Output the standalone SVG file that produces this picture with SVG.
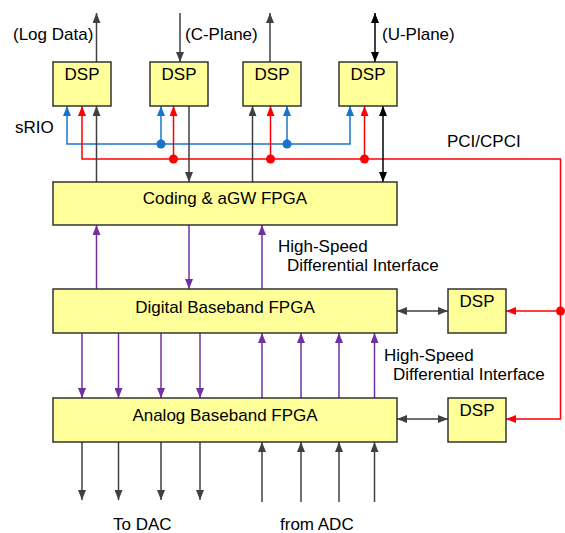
<svg xmlns="http://www.w3.org/2000/svg" width="565" height="533" viewBox="0 0 565 533">
<style>
text{font-family:"Liberation Sans",Arial,sans-serif;font-size:17px;fill:#000}
.box{fill:#FFFF99;stroke:#333;stroke-width:1.5}
.c{text-anchor:middle}
.g{stroke:#404040;stroke-width:1.5;fill:none}
.k{stroke:#000;stroke-width:1.5;fill:none}
.p{stroke:#7030A0;stroke-width:1.5;fill:none}
.r{stroke:#FF0000;stroke-width:1.5;fill:none}
.b{stroke:#1874CD;stroke-width:1.5;fill:none}
</style>
<defs>
<marker id="ag" viewBox="0 0 10 8" refX="10" refY="4" markerWidth="10" markerHeight="8" markerUnits="userSpaceOnUse" orient="auto-start-reverse"><path d="M0,0L10,4L0,8z" fill="#404040"/></marker>
<marker id="ak" viewBox="0 0 10 8" refX="10" refY="4" markerWidth="10" markerHeight="8" markerUnits="userSpaceOnUse" orient="auto-start-reverse"><path d="M0,0L10,4L0,8z" fill="#000"/></marker>
<marker id="ap" viewBox="0 0 10 8" refX="10" refY="4" markerWidth="10" markerHeight="8" markerUnits="userSpaceOnUse" orient="auto-start-reverse"><path d="M0,0L10,4L0,8z" fill="#7030A0"/></marker>
<marker id="ar" viewBox="0 0 10 8" refX="10" refY="4" markerWidth="10" markerHeight="8" markerUnits="userSpaceOnUse" orient="auto-start-reverse"><path d="M0,0L10,4L0,8z" fill="#FF0000"/></marker>
<marker id="ab" viewBox="0 0 10 8" refX="10" refY="4" markerWidth="10" markerHeight="8" markerUnits="userSpaceOnUse" orient="auto-start-reverse"><path d="M0,0L10,4L0,8z" fill="#1874CD"/></marker>
</defs>

<g id="connectors">
<!-- top external -->
<line class="g" x1="96.5" y1="62" x2="96.5" y2="13" marker-end="url(#ag)"/>
<line class="g" x1="180" y1="13" x2="180" y2="62" marker-end="url(#ag)"/>
<line class="g" x1="270" y1="62" x2="270" y2="13" marker-end="url(#ag)"/>
<line class="k" x1="375" y1="13" x2="375" y2="62" marker-start="url(#ak)" marker-end="url(#ak)"/>
<!-- blue sRIO -->
<polyline class="b" points="67,106 67,144 350,144 350,106" marker-start="url(#ab)" marker-end="url(#ab)"/>
<line class="b" x1="161" y1="144" x2="161" y2="106" marker-end="url(#ab)"/>
<line class="b" x1="287" y1="144" x2="287" y2="106" marker-end="url(#ab)"/>
<circle cx="161" cy="144" r="4.5" fill="#1874CD"/>
<circle cx="287" cy="144" r="4.5" fill="#1874CD"/>
<!-- red PCI -->
<polyline class="r" points="82,106 82,159 560.5,159 560.5,419 506,419" marker-start="url(#ar)" marker-end="url(#ar)"/>
<line class="r" x1="173.5" y1="159" x2="173.5" y2="106" marker-end="url(#ar)"/>
<line class="r" x1="270.5" y1="159" x2="270.5" y2="106" marker-end="url(#ar)"/>
<line class="r" x1="364.5" y1="159" x2="364.5" y2="106" marker-end="url(#ar)"/>
<line class="r" x1="560.5" y1="311" x2="506" y2="311" marker-end="url(#ar)"/>
<circle cx="173.5" cy="159" r="4.5" fill="#FF0000"/>
<circle cx="270.5" cy="159" r="4.5" fill="#FF0000"/>
<circle cx="364.5" cy="159" r="4.5" fill="#FF0000"/>
<circle cx="560.5" cy="311" r="4.5" fill="#FF0000"/>
<!-- black DSP to coding -->
<line class="g" x1="96.5" y1="182" x2="96.5" y2="106" marker-end="url(#ag)"/>
<line class="g" x1="189" y1="106" x2="189" y2="182" marker-end="url(#ag)"/>
<line class="g" x1="252.5" y1="182" x2="252.5" y2="106" marker-end="url(#ag)"/>
<line class="k" x1="383" y1="106" x2="383" y2="182" marker-start="url(#ak)" marker-end="url(#ak)"/>
<!-- purple coding/digital -->
<line class="p" x1="96.5" y1="289" x2="96.5" y2="225" marker-end="url(#ap)"/>
<line class="p" x1="189" y1="225" x2="189" y2="289" marker-end="url(#ap)"/>
<line class="p" x1="262" y1="289" x2="262" y2="225" marker-end="url(#ap)"/>
<!-- purple digital/analog -->
<line class="p" x1="82" y1="333" x2="82" y2="398" marker-end="url(#ap)"/>
<line class="p" x1="118.5" y1="333" x2="118.5" y2="398" marker-end="url(#ap)"/>
<line class="p" x1="161" y1="333" x2="161" y2="398" marker-end="url(#ap)"/>
<line class="p" x1="200" y1="333" x2="200" y2="398" marker-end="url(#ap)"/>
<line class="p" x1="262" y1="398" x2="262" y2="333" marker-end="url(#ap)"/>
<line class="p" x1="301" y1="398" x2="301" y2="333" marker-end="url(#ap)"/>
<line class="p" x1="339" y1="398" x2="339" y2="333" marker-end="url(#ap)"/>
<line class="p" x1="374.5" y1="398" x2="374.5" y2="333" marker-end="url(#ap)"/>
<!-- bottom -->
<line class="g" x1="82" y1="442" x2="82" y2="500" marker-end="url(#ag)"/>
<line class="g" x1="118.5" y1="442" x2="118.5" y2="500" marker-end="url(#ag)"/>
<line class="g" x1="161" y1="442" x2="161" y2="500" marker-end="url(#ag)"/>
<line class="g" x1="200" y1="442" x2="200" y2="500" marker-end="url(#ag)"/>
<line class="g" x1="262" y1="502" x2="262" y2="442" marker-end="url(#ag)"/>
<line class="g" x1="301" y1="502" x2="301" y2="442" marker-end="url(#ag)"/>
<line class="g" x1="339" y1="502" x2="339" y2="442" marker-end="url(#ag)"/>
<line class="g" x1="374.5" y1="502" x2="374.5" y2="442" marker-end="url(#ag)"/>
<!-- right DSP links -->
<line class="g" x1="397" y1="311" x2="448" y2="311" marker-start="url(#ag)" marker-end="url(#ag)"/>
<line class="g" x1="397" y1="419" x2="448" y2="419" marker-start="url(#ag)" marker-end="url(#ag)"/>
</g>

<g id="dsp1"><rect class="box" x="53" y="62" width="58" height="44"/><text class="c" x="82" y="80">DSP</text></g>
<g id="dsp2"><rect class="box" x="150" y="62" width="58" height="44"/><text class="c" x="179" y="80">DSP</text></g>
<g id="dsp3"><rect class="box" x="243" y="62" width="58" height="44"/><text class="c" x="272" y="80">DSP</text></g>
<g id="dsp4"><rect class="box" x="339" y="62" width="58" height="44"/><text class="c" x="368" y="80">DSP</text></g>
<g id="coding"><rect class="box" x="53" y="182" width="344" height="43"/><text class="c" x="225" y="204">Coding &amp; aGW FPGA</text></g>
<g id="digital"><rect class="box" x="53" y="289" width="344" height="44"/><text class="c" x="225" y="313">Digital Baseband FPGA</text></g>
<g id="analog"><rect class="box" x="53" y="398" width="344" height="44"/><text class="c" x="225" y="421">Analog Baseband FPGA</text></g>
<g id="dsp5"><rect class="box" x="448" y="289" width="58" height="44"/><text class="c" x="477" y="307">DSP</text></g>
<g id="dsp6"><rect class="box" x="448" y="398" width="58" height="44"/><text class="c" x="477" y="416">DSP</text></g>

<g id="labels">
<text x="13" y="40">(Log Data)</text>
<text x="185" y="40">(C-Plane)</text>
<text x="382" y="40">(U-Plane)</text>
<text x="15" y="133">sRIO</text>
<text x="447" y="147">PCI/CPCI</text>
<text x="278" y="252">High-Speed</text>
<text x="287" y="271">Differential Interface</text>
<text x="384" y="361">High-Speed</text>
<text x="393" y="380">Differential Interface</text>
<text x="113" y="530">To DAC</text>
<text x="280" y="530">from ADC</text>
</g>
</svg>
